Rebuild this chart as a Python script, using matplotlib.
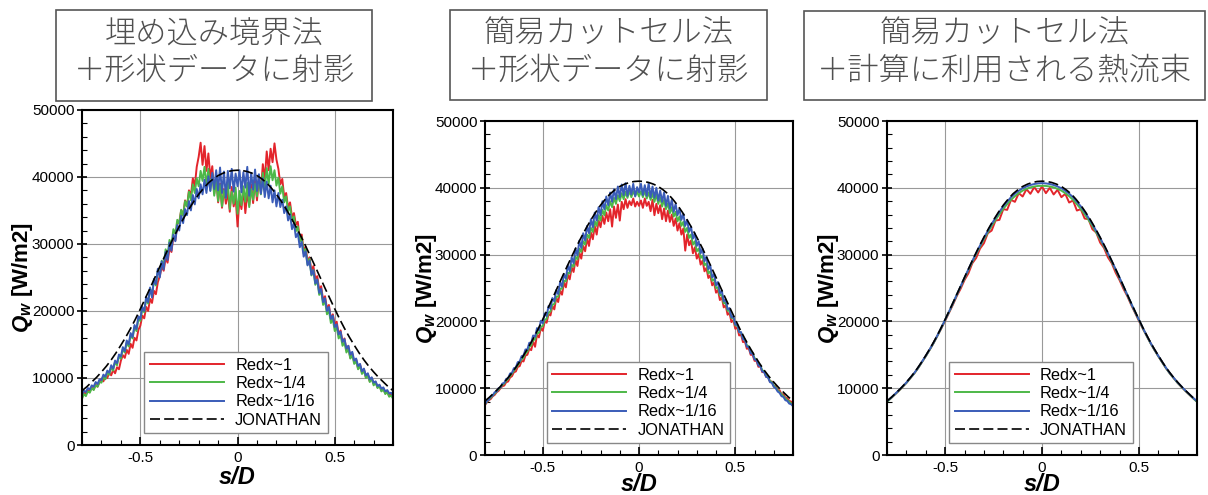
import numpy as np
import matplotlib
matplotlib.use("Agg")
import matplotlib.pyplot as plt
from matplotlib.patches import Rectangle
from matplotlib.ticker import MultipleLocator

plt.rcParams['font.family'] = ['Liberation Sans', 'DejaVu Sans']
plt.rcParams['axes.unicode_minus'] = False
plt.rcParams['mathtext.fontset'] = 'custom'
plt.rcParams['mathtext.it'] = 'Liberation Sans:bold:italic'
plt.rcParams['mathtext.rm'] = 'Liberation Sans:bold'

# s/D grids (noisy data sampled every 0.01, smooth data every 0.02, reference every 0.025)
s_fine = np.linspace(-0.8, 0.8, 161)
s_mid = np.linspace(-0.8, 0.8, 81)
s_jon = np.linspace(-0.8, 0.8, 65)

# JONATHAN reference, kW/m2
q_jon = [8.1, 8.7, 9.4, 10.1, 10.9, 11.75, 12.7, 13.75, 14.9, 16.1, 17.4, 18.8, 20.3, 21.85, 23.4, 25.0,
         26.6, 28.15, 29.7, 31.2, 32.6, 33.95, 35.2, 36.35, 37.4, 38.3, 39.1, 39.7, 40.2, 40.55, 40.8, 40.95,
         41.0,
         40.95, 40.8, 40.55, 40.2, 39.7, 39.1, 38.3, 37.4, 36.35, 35.2, 33.95, 32.6, 31.2, 29.7, 28.15, 26.6,
         25.0, 23.4, 21.85, 20.3, 18.8, 17.4, 16.1, 14.9, 13.75, 12.7, 11.75, 10.9, 10.1, 9.4, 8.7, 8.1]

# panel 1: embedded boundary + projection to shape data
p1_red = [7.4, 7.9, 7.6, 8.2, 8.0, 8.6, 8.3, 9.0, 8.7, 9.4,
          9.9, 9.5, 10.3, 10.0, 10.8, 10.4, 11.2, 10.7, 11.6, 11.3,
          12.6, 13.4, 13.0, 14.2, 13.6, 15.1, 14.5, 16.0, 15.6, 17.2,
          17.8, 19.3, 18.9, 20.6, 20.0, 21.8, 21.2, 23.0, 22.5, 24.3,
          25.2, 26.6, 26.0, 27.9, 27.2, 29.4, 28.8, 31.2, 30.5, 33.0,
          33.2, 35.0, 34.3, 36.5, 35.6, 38.0, 37.2, 39.8, 38.6, 41.5,
          43.0, 45.1, 41.8, 44.6, 40.9, 43.5, 39.8, 41.6, 37.5, 40.2,
          36.2, 39.0, 35.4, 38.2, 36.0, 37.8, 34.8, 38.5, 35.6, 37.0,
          32.6,
          36.8, 35.2, 38.3, 34.6, 37.6, 35.8, 38.9, 36.1, 39.4, 36.5,
          39.9, 37.8, 41.9, 39.6, 43.8, 41.0, 44.2, 42.2, 45.0, 42.6,
          41.2, 38.9, 39.7, 37.0, 37.6, 35.4, 36.2, 34.0, 34.6, 32.9,
          33.3, 30.6, 31.4, 28.9, 29.6, 27.4, 28.0, 25.9, 26.7, 24.8,
          25.2, 23.1, 23.7, 21.6, 22.2, 20.3, 20.9, 18.8, 19.5, 18.0,
          18.4, 16.5, 17.1, 15.3, 15.9, 14.1, 14.8, 13.0, 13.7, 12.4,
          12.8, 11.4, 12.0, 10.8, 11.3, 10.1, 10.6, 9.5, 10.0, 9.1,
          9.4, 8.6, 8.9, 8.1, 8.4, 7.7, 8.0, 7.3, 7.6, 7.2]
p1_green = [6.9, 7.6, 7.3, 8.0, 7.8, 8.5, 8.2, 8.9, 8.7, 9.4,
            9.3, 10.2, 9.8, 10.8, 10.5, 11.6, 11.1, 12.4, 11.9, 13.2,
            12.9, 14.3, 13.8, 15.3, 14.7, 16.4, 15.9, 17.6, 17.0, 18.8,
            18.5, 20.3, 19.8, 21.8, 21.1, 23.3, 22.4, 24.6, 23.8, 26.0,
            25.4, 27.5, 26.8, 29.2, 28.3, 30.6, 29.9, 32.2, 31.5, 33.6,
            33.0, 35.1, 34.2, 36.4, 35.6, 37.8, 36.5, 38.9, 37.6, 39.8,
            38.6, 40.9, 39.4, 41.5, 38.8, 41.2, 38.0, 40.4, 37.2, 39.6,
            36.4, 38.8, 35.6, 38.0, 36.8, 39.2, 35.2, 37.8, 36.0, 38.4,
            34.5,
            37.9, 35.8, 38.6, 36.3, 39.1, 35.5, 38.2, 36.6, 39.0, 37.1,
            39.8, 37.4, 40.6, 38.2, 41.3, 38.9, 41.6, 39.5, 41.0, 38.7,
            39.9, 37.5, 38.6, 36.2, 37.1, 34.9, 35.6, 33.4, 34.1, 31.9,
            32.6, 30.3, 31.0, 28.6, 29.3, 26.9, 27.8, 25.3, 26.1, 23.9,
            24.6, 22.4, 23.0, 20.9, 21.5, 19.5, 20.1, 18.2, 18.8, 17.0,
            17.6, 15.9, 16.4, 14.8, 15.3, 13.8, 14.3, 12.9, 13.4, 12.1,
            12.5, 11.3, 11.8, 10.6, 11.1, 10.0, 10.4, 9.4, 9.9, 8.9,
            9.3, 8.5, 8.8, 8.0, 8.3, 7.6, 7.9, 7.2, 7.4, 6.9]
p1_blue = [7.6, 8.1, 7.9, 8.5, 8.3, 8.9, 8.7, 9.4, 9.1, 9.8,
           9.7, 10.5, 10.2, 11.1, 10.8, 11.9, 11.4, 12.6, 12.2, 13.5,
           13.2, 14.6, 14.0, 15.6, 15.0, 16.7, 16.1, 17.9, 17.3, 19.2,
           18.8, 20.6, 20.0, 22.1, 21.3, 23.5, 22.0, 24.8, 24.0, 26.3,
           25.0, 27.4, 26.2, 28.8, 27.6, 30.2, 29.0, 31.4, 30.4, 32.8,
           32.0, 34.2, 33.1, 35.2, 34.3, 36.4, 35.0, 37.3, 35.9, 38.2,
           36.8, 38.9, 37.4, 39.6, 37.6, 40.1, 37.9, 40.6, 38.2, 41.0,
           38.0, 41.4, 37.6, 40.8, 36.9, 40.9, 38.3, 41.2, 37.8, 40.5,
           38.6,
           41.0, 37.7, 40.7, 38.4, 41.5, 37.2, 40.6, 38.1, 41.1, 37.9,
           40.4, 37.5, 39.8, 37.0, 39.3, 36.8, 38.7, 36.2, 38.0, 35.6,
           37.6, 35.5, 36.6, 34.6, 35.6, 33.5, 34.4, 32.2, 33.1, 31.0,
           31.6, 29.5, 30.3, 28.1, 28.9, 26.8, 27.5, 25.4, 26.1, 24.1,
           24.7, 22.7, 23.3, 21.3, 21.9, 20.0, 20.6, 18.8, 19.3, 17.6,
           18.0, 16.5, 16.9, 15.4, 15.8, 14.4, 14.8, 13.5, 13.9, 12.6,
           12.9, 11.8, 12.1, 11.0, 11.4, 10.4, 10.7, 9.8, 10.1, 9.3,
           9.5, 8.8, 9.0, 8.4, 8.6, 8.0, 8.2, 7.7, 7.8, 7.4]

# panel 2: simple cut cell + projection to shape data
p2_red = [7.5, 7.9, 8.2, 8.4, 8.8, 9.0, 9.4, 9.6, 10.0, 10.3,
          10.4, 10.9, 11.0, 11.6, 11.8, 12.4, 12.5, 13.2, 13.3, 14.1,
          14.0, 14.9, 15.0, 15.9, 15.7, 17.0, 16.2, 18.0, 17.6, 19.0,
          18.6, 20.0, 19.8, 21.1, 20.9, 22.3, 21.8, 23.5, 22.9, 24.6,
          24.0, 25.8, 25.1, 27.0, 26.3, 28.1, 27.4, 29.2, 28.3, 30.3,
          29.4, 31.3, 30.5, 32.4, 31.3, 33.3, 32.3, 34.3, 33.0, 35.1,
          34.1, 35.8, 34.6, 36.3, 35.0, 36.8, 34.2, 37.2, 35.5, 37.5,
          35.1, 37.9, 36.8, 38.3, 37.0, 38.0, 37.4, 38.4, 37.2, 37.9,
          37.3,
          38.1, 37.0, 38.4, 37.3, 37.9, 36.5, 38.2, 35.9, 37.6, 36.2,
          37.4, 35.3, 36.9, 35.0, 36.6, 34.9, 36.0, 34.3, 35.4, 33.6,
          34.7, 33.0, 33.9, 30.6, 33.0, 31.4, 32.1, 30.2, 31.1, 29.4,
          30.1, 28.5, 29.1, 27.5, 28.0, 26.5, 26.9, 25.4, 25.8, 24.3,
          24.7, 23.2, 23.6, 22.1, 22.4, 21.0, 21.3, 19.9, 20.2, 18.9,
          19.1, 17.9, 18.0, 16.9, 17.0, 15.9, 16.0, 15.0, 15.0, 14.1,
          14.1, 13.2, 13.3, 12.4, 12.5, 11.7, 11.7, 11.0, 11.0, 10.3,
          10.3, 9.7, 9.7, 9.1, 9.1, 8.6, 8.5, 8.1, 8.0, 7.6]
p2_green = [7.6, 8.0, 8.3, 8.6, 8.9, 9.2, 9.5, 9.8, 10.1, 10.5,
            10.7, 11.1, 11.4, 11.8, 12.2, 12.6, 13.0, 13.4, 13.9, 14.3,
            14.6, 15.2, 15.5, 16.2, 16.4, 17.2, 17.3, 18.2, 18.3, 19.2,
            19.3, 20.2, 20.4, 21.3, 21.5, 22.5, 22.6, 23.7, 23.7, 24.9,
            24.9, 26.1, 26.0, 27.3, 27.2, 28.5, 28.2, 29.7, 29.3, 30.9,
            30.4, 32.0, 31.5, 33.0, 32.5, 34.0, 33.4, 35.0, 34.3, 35.9,
            35.1, 36.7, 35.9, 37.4, 36.6, 38.0, 37.1, 38.5, 37.6, 38.9,
            38.0, 39.2, 38.3, 39.4, 38.5, 39.6, 38.6, 39.5, 38.8, 39.4,
            38.7,
            39.5, 38.6, 39.6, 38.4, 39.3, 38.2, 39.2, 37.9, 39.0, 37.6,
            38.6, 37.2, 38.2, 36.8, 37.7, 36.2, 37.1, 35.7, 36.4, 35.0,
            35.7, 34.3, 34.9, 33.4, 34.0, 32.5, 33.0, 31.5, 32.0, 30.5,
            30.9, 29.5, 29.8, 28.4, 28.7, 27.2, 27.5, 26.1, 26.3, 25.0,
            25.1, 23.9, 24.0, 22.7, 22.8, 21.6, 21.6, 20.5, 20.5, 19.4,
            19.4, 18.4, 18.3, 17.4, 17.3, 16.4, 16.3, 15.4, 15.3, 14.5,
            14.3, 13.6, 13.4, 12.7, 12.5, 11.9, 11.7, 11.1, 10.9, 10.4,
            10.1, 9.7, 9.4, 9.1, 8.8, 8.5, 8.2, 8.0, 7.7, 7.5]
p2_blue = [7.6, 8.1, 8.3, 8.8, 8.9, 9.4, 9.5, 10.0, 10.1, 10.7,
           10.8, 11.4, 11.5, 12.2, 12.3, 13.0, 13.1, 13.9, 14.0, 14.8,
           14.9, 15.8, 15.8, 16.8, 16.8, 17.9, 17.7, 19.0, 18.7, 20.1,
           19.7, 21.2, 20.8, 22.3, 21.9, 23.5, 23.0, 24.7, 24.1, 25.9,
           25.2, 27.1, 26.4, 28.4, 27.5, 29.6, 28.7, 30.9, 29.9, 32.1,
           31.0, 33.2, 32.1, 34.3, 33.2, 35.3, 34.1, 36.3, 35.1, 37.1,
           35.9, 38.0, 36.8, 38.7, 37.4, 39.3, 37.9, 39.8, 38.3, 40.2,
           38.6, 40.5, 38.9, 40.7, 38.8, 40.3, 39.0, 40.6, 38.7, 40.1,
           39.3,
           40.6, 38.9, 40.4, 38.8, 40.7, 38.6, 40.2, 38.5, 40.0, 38.1,
           39.6, 37.9, 39.3, 37.3, 38.8, 36.9, 38.2, 36.4, 37.6, 35.9,
           36.9, 35.2, 36.1, 34.3, 35.2, 33.4, 34.2, 32.4, 33.2, 31.3,
           32.0, 30.2, 30.9, 29.0, 29.7, 27.8, 28.4, 26.6, 27.1, 25.4,
           25.9, 24.2, 24.6, 23.0, 23.3, 21.8, 22.0, 20.6, 20.8, 19.5,
           19.6, 18.4, 18.4, 17.3, 17.3, 16.2, 16.2, 15.2, 15.2, 14.3,
           14.2, 13.4, 13.3, 12.5, 12.4, 11.7, 11.6, 10.9, 10.8, 10.2,
           10.0, 9.5, 9.3, 8.8, 8.7, 8.2, 8.1, 7.7, 7.6, 7.3]

# panel 3: simple cut cell + heat flux used in the computation
p3_red = [8.0, 8.5, 9.05, 9.6, 10.2, 10.8, 11.5, 12.2, 13.0, 13.9,
          14.8, 15.75, 16.75, 17.85, 18.95, 20.1, 21.3, 22.5, 23.8, 24.9,
          26.2, 27.2, 28.7, 29.5, 30.9, 31.7, 33.2, 33.6, 35.1, 35.2,
          36.8, 36.7, 38.2, 37.9, 39.2, 38.7, 39.8, 39.1, 40.1, 39.3,
          40.2,
          39.2, 40.0, 39.0, 39.7, 38.6, 39.1, 37.8, 38.1, 36.6, 36.8,
          35.4, 35.3, 33.8, 33.3, 31.8, 31.0, 29.6, 28.7, 27.3, 26.2,
          24.9, 23.8, 22.5, 21.3, 20.1, 18.95, 17.85, 16.75, 15.75, 14.8,
          13.9, 13.0, 12.2, 11.5, 10.8, 10.2, 9.6, 9.05, 8.5, 8.0]
p3_green = [7.95, 8.5, 9.05, 9.6, 10.2, 10.8, 11.5, 12.2, 13.0, 13.9,
            14.8, 15.75, 16.75, 17.85, 19.0, 20.2, 21.4, 22.65, 23.95, 25.2,
            26.45, 27.7, 28.9, 30.1, 31.2, 32.3, 33.3, 34.3, 35.2, 36.05,
            36.85, 37.55, 38.2, 38.75, 39.2, 39.58, 39.85, 40.07, 40.2, 40.28,
            40.3,
            40.28, 40.2, 40.07, 39.85, 39.58, 39.2, 38.75, 38.2, 37.55, 36.85,
            36.05, 35.2, 34.3, 33.3, 32.3, 31.2, 30.1, 28.9, 27.7, 26.45,
            25.2, 23.95, 22.65, 21.4, 20.2, 19.0, 17.85, 16.75, 15.75, 14.8,
            13.9, 13.0, 12.2, 11.5, 10.8, 10.2, 9.6, 9.05, 8.5, 7.95]
p3_blue = [8.05, 8.55, 9.1, 9.65, 10.25, 10.85, 11.55, 12.25, 13.05, 13.95,
           14.85, 15.8, 16.8, 17.9, 19.05, 20.25, 21.45, 22.7, 24.0, 25.25,
           26.55, 27.8, 29.03, 30.22, 31.36, 32.5, 33.54, 34.58, 35.52, 36.4,
           37.24, 37.92, 38.6, 39.13, 39.56, 39.94, 40.2, 40.42, 40.57, 40.66,
           40.7,
           40.66, 40.57, 40.42, 40.2, 39.94, 39.56, 39.13, 38.6, 37.92, 37.24,
           36.4, 35.52, 34.58, 33.54, 32.5, 31.36, 30.22, 29.03, 27.8, 26.55,
           25.25, 24.0, 22.7, 21.45, 20.25, 19.05, 17.9, 16.8, 15.8, 14.85,
           13.95, 13.05, 12.25, 11.55, 10.85, 10.25, 9.65, 9.1, 8.55, 8.05]

titles = [("埋め込み境界法", "＋形状データに射影"),
          ("簡易カットセル法", "＋形状データに射影"),
          ("簡易カットセル法", "＋計算に利用される熱流束")]
labels = ["Redx~1", "Redx~1/4", "Redx~1/16", "JONATHAN"]
colors = ["#e3242b", "#4db848", "#3a5cb8"]

panels = [(s_fine, [p1_red, p1_green, p1_blue]),
          (s_fine, [p2_red, p2_green, p2_blue]),
          (s_mid, [p3_red, p3_green, p3_blue])]

# layout in figure fractions
ax_boxes = [[0.0679, 0.101, 0.2575, 0.677],
            [0.4015, 0.0808, 0.2550, 0.6747],
            [0.7343, 0.0808, 0.2566, 0.6747]]
title_boxes = [[0.0464, 0.796, 0.2616, 0.184],
               [0.3725, 0.798, 0.2624, 0.182],
               [0.6656, 0.798, 0.3320, 0.180]]
xlabel_y = [-0.097, -0.087, -0.087]

fig = plt.figure(figsize=(12.08, 4.95), dpi=100)

for k, (s, series) in enumerate(panels):
    ax = fig.add_axes(ax_boxes[k])
    for q, c, lab in zip(series, colors, labels):
        assert len(q) == len(s)
        ax.plot(s, np.array(q) * 1000, color=c, lw=1.4, label=lab)
    ax.plot(s_jon, np.array(q_jon) * 1000, color='black', lw=1.2, dashes=(6, 2.5), label=labels[3])

    ax.set_xlim(-0.8, 0.8)
    ax.set_ylim(0, 50000)
    ax.set_xticks([-0.5, 0, 0.5])
    ax.set_xticklabels(["-0.5", "0", "0.5"])
    ax.set_yticks(np.arange(0, 50001, 10000))
    ax.xaxis.set_minor_locator(MultipleLocator(0.1))
    ax.yaxis.set_minor_locator(MultipleLocator(2000))
    ax.tick_params(axis='x', which='major', direction='in', length=6, width=1.2, labelsize=11, pad=4)
    ax.tick_params(axis='x', which='minor', direction='in', length=3.5, width=0.8)
    ax.tick_params(axis='y', which='major', direction='inout', length=7, width=1.2, labelsize=11, pad=2)
    ax.tick_params(axis='y', which='minor', direction='in', length=3.5, width=0.8)
    ax.grid(True, which='major', color='#999999', lw=0.8)
    ax.set_axisbelow(True)
    for sp in ax.spines.values():
        sp.set_linewidth(1.5)

    ax.set_xlabel("s/D", fontsize=17, fontweight='bold', fontstyle='italic', va='center')
    ax.xaxis.set_label_coords(0.5, xlabel_y[k])
    ax.set_ylabel("$Q_w$ [W/m2]", fontsize=16, fontweight='bold', va='center')
    ax.yaxis.set_label_coords(-0.19, 0.5)

    leg = ax.legend(loc='lower left', bbox_to_anchor=(0.2, 0.035), fontsize=11.8,
                    handlelength=4.5, handletextpad=0.7, labelspacing=0.2,
                    borderpad=0.35, fancybox=False, framealpha=1, borderaxespad=0)
    leg.get_frame().set_edgecolor('#888888')
    leg.get_frame().set_linewidth(1.0)

    # boxed title above each panel
    x0, y0, w, h = title_boxes[k]
    fig.add_artist(Rectangle((x0, y0), w, h, transform=fig.transFigure, fill=False,
                             edgecolor='#555555', lw=1.2))
    fig.text(x0 + w / 2, 0.931, titles[k][0], ha='center', va='center', fontsize=22.5,
             color='#505050', fontweight='light', family=['Noto Sans CJK JP', 'DejaVu Sans'])
    fig.text(x0 + w / 2, 0.857, titles[k][1], ha='center', va='center', fontsize=22.5,
             color='#505050', fontweight='light', family=['Noto Sans CJK JP', 'DejaVu Sans'])

fig.savefig("out.png", dpi=100)
